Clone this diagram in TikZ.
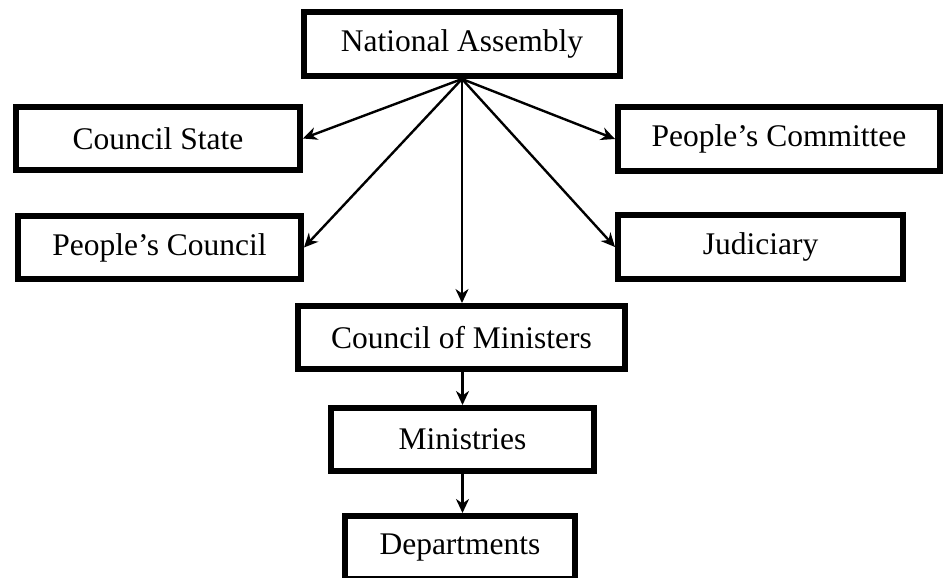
\documentclass[tikz,border=0pt]{standalone}
\usepackage{fontspec}
\setmainfont{Liberation Serif}
\usetikzlibrary{arrows.meta}
\begin{document}
\begin{tikzpicture}[x=1pt,y=-1pt,
  box/.style={draw, line width=6pt, inner sep=0pt, minimum height=63pt,
    font=\fontsize{31.5}{36}\selectfont},
  link/.style={line width=2.4pt, -{Stealth[length=14pt,width=13pt,inset=4.5pt]}}]
\useasboundingbox (0,0) rectangle (948,578);

% organisation boxes
\node[box, minimum width=316pt, minimum height=64pt] (na)  at (462,44)    {National Assembly};
\node[box, minimum width=284pt] (cs)  at (158,138.5)  {Council State};
\node[box, minimum width=283pt] (pc)  at (159.5,247.5) {People’s Council};
\node[box, minimum width=322pt, minimum height=64pt] (pcm) at (779,139)   {People’s Committee};
\node[box, minimum width=285pt, minimum height=64pt] (jud) at (760.5,247) {Judiciary};
\node[box, minimum width=327pt] (com) at (461.5,337.5) {Council of Ministers};
\node[box, minimum width=263pt] (min) at (462.5,439.5) {Ministries};
\node[box, minimum width=230pt] (dep) at (460,547.5)  {Departments};

% reporting lines
\draw[link] (na.south) -- (cs.east);
\draw[link] (na.south) -- (pc.east);
\draw[link] (na.south) -- (pcm.west);
\draw[link] (na.south) -- (jud.west);
\draw[link] (na.south) -- (na.south |- com.north);
\draw[link] (com.south -| min.north) -- (min.north);
\draw[link] (min.south) -- (min.south |- dep.north);
\end{tikzpicture}
\end{document}
